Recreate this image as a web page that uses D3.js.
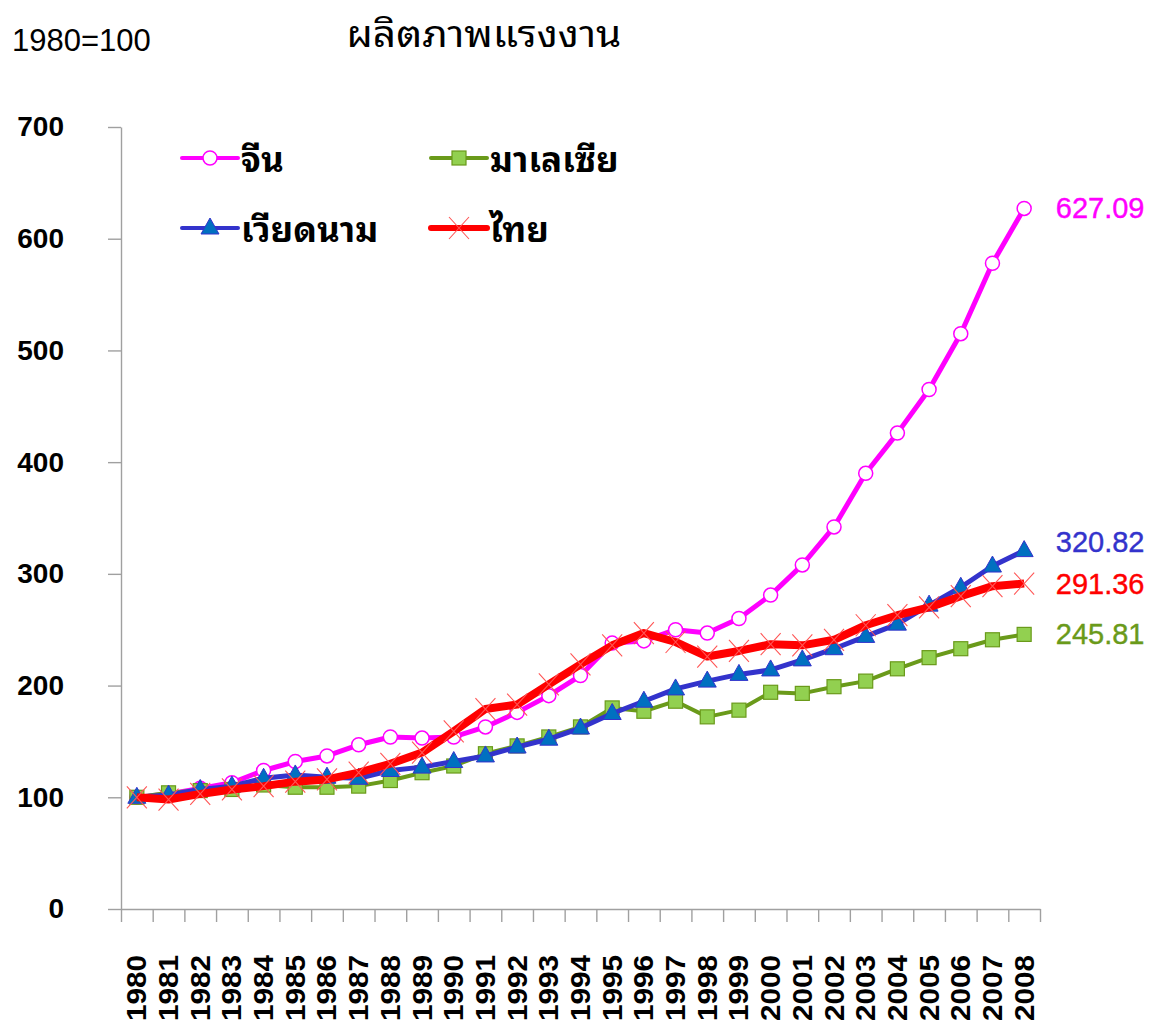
<!DOCTYPE html>
<html><head><meta charset="utf-8">
<script src="https://cdn.jsdelivr.net/npm/d3@7/dist/d3.min.js"></script>
<style>body{margin:0;background:#fff} svg{display:block}</style>
</head><body>
<svg id="c" width="1149" height="1022"></svg>
<script>
const years = [1980,1981,1982,1983,1984,1985,1986,1987,1988,1989,1990,1991,1992,1993,1994,1995,1996,1997,1998,1999,2000,2001,2002,2003,2004,2005,2006,2007,2008];
const china    = [100,103,108,113,124,132,137,147,154,153,154,163,176,191,209,238,240,250,247,260,281,308,342,390,426,465,515,578,627.09];
const malaysia = [100,104,106,107,111,109,109,110,115,122,128,139,146,154,163,180,177,186,172,178,194,193,199,204,215,225,233,241,245.81];
const vietnam  = [100,102,107,110,117,120,118,117,124,127,132,137,145,152,162,175,186,197,204,210,214,223,233,244,255,272,288,307,320.82];
const thailand = [100,98,103,107,110,114,116,122,130,140,159,179,183,201,219,236,247,239,226,231,237,236,241,254,263,270,280,289,291.36];
const seriesNames = ["จีน","มาเลเซีย","เวียดนาม","ไทย"];
const yTicks = [0,100,200,300,400,500,600,700];
const titleText = "ผลิตภาพแรงงาน";
const baseText = "1980=100";

const THAI = "Tahoma, 'Noto Sans Thai Looped', 'Noto Sans Thai', Loma, Garuda, Norasi, 'Noto Sans', sans-serif";
const LAT = "'Liberation Sans', Arial, sans-serif";

const svg = d3.select("#c");
const x = d3.scaleBand().domain(years).range([121,1040]);
const bw = x.bandwidth();
const cx = d => x(d) + bw/2;
const y = d3.scaleLinear().domain([0,700]).range([909,127]);

// title
svg.append("text").attr("transform","translate(484,47) scale(1.13,1)").attr("text-anchor","middle")
  .attr("font-family",THAI).attr("font-size",36).attr("fill","#000").text(titleText);
svg.append("text").attr("x",12).attr("y",51)
  .attr("font-family",LAT).attr("font-size",31).attr("fill","#000").text(baseText);

// y axis
const gy = svg.append("g").attr("transform","translate(121,0)")
  .call(d3.axisLeft(y).tickValues(yTicks).tickSize(13).tickSizeOuter(0).tickPadding(44));
gy.selectAll("path,line").attr("stroke","#a0a0a0").attr("stroke-width",1.4);
gy.selectAll("text").attr("font-family",LAT).attr("font-weight","bold").attr("font-size",28).attr("fill","#000");

// x axis (ticks at band boundaries)
const xb = d3.scaleLinear().domain([0,years.length]).range([121,1040]);
const gx = svg.append("g").attr("transform","translate(0,909)")
  .call(d3.axisBottom(xb).tickValues(d3.range(years.length+1)).tickSize(13).tickSizeOuter(0).tickFormat(""));
gx.selectAll("path,line").attr("stroke","#a0a0a0").attr("stroke-width",1.4);
svg.append("g").selectAll("text").data(years).join("text")
  .attr("transform",d=>`translate(${cx(d)},955) rotate(-90) scale(1.1,1)`)
  .attr("text-anchor","end").attr("dominant-baseline","central")
  .attr("font-family",LAT).attr("font-weight","bold").attr("font-size",27).attr("fill","#000")
  .text(d=>d);

// series
const series = [
  {name:seriesNames[0], values:china, color:"#FF00FF", width:5, marker:"circle"},
  {name:seriesNames[1], values:malaysia, color:"#6A9A1A", width:4, marker:"square"},
  {name:seriesNames[2], values:vietnam, color:"#3333CC", width:5, marker:"triangle"},
  {name:seriesNames[3], values:thailand, color:"#FF0000", width:8, marker:"x"}
];

function drawMarker(g, type, px, py, color){
  if(type==="circle"){
    g.append("circle").attr("cx",px).attr("cy",py).attr("r",7).attr("fill","#fff").attr("stroke",color).attr("stroke-width",1.5);
  } else if(type==="square"){
    g.append("rect").attr("x",px-7).attr("y",py-7).attr("width",14).attr("height",14).attr("fill","#92D050").attr("stroke","#6A9A1A").attr("stroke-width",1.2);
  } else if(type==="triangle"){
    g.append("path").attr("d",`M${px},${py-10}L${px+9},${py+6}L${px-9},${py+6}Z`).attr("fill","#0070C0").attr("stroke","#3333CC").attr("stroke-width",1);
  } else {
    const w=10,h=11;
    g.append("path").attr("d",`M${px-w},${py-h}L${px+w},${py+h}M${px+w},${py-h}L${px-w},${py+h}`).attr("stroke","#FF5555").attr("stroke-width",1.1).attr("fill","none");
  }
}

const line = d3.line().x((d,i)=>cx(years[i])).y(d=>y(d));
series.forEach(s=>{
  const g = svg.append("g");
  g.append("path").attr("d",line(s.values)).attr("fill","none").attr("stroke",s.color)
    .attr("stroke-width",s.width).attr("stroke-linejoin","round");
  s.values.forEach((v,i)=>drawMarker(g,s.marker,cx(years[i]),y(v),s.color));
});

// end labels
const last = years[years.length-1];
const labelShift = {"จีน":0,"มาเลเซีย":0,"เวียดนาม":-9,"ไทย":0};
series.forEach(s=>{
  const v = s.values[s.values.length-1];
  svg.append("text").attr("x",cx(last)+76).attr("y",y(v)+labelShift[s.name])
    .attr("text-anchor","middle").attr("dominant-baseline","central")
    .attr("font-family",LAT).attr("font-size",29).attr("stroke",s.color).attr("stroke-width",0.4)
    .attr("fill",s.color).text(v.toFixed(2));
});

// legend
const legPos = [[182,158],[431,158],[182,228],[431,228]];
series.forEach((s,i)=>{
  const [lx,ly] = legPos[i];
  const g = svg.append("g");
  g.append("line").attr("x1",lx).attr("x2",lx+56).attr("y1",ly).attr("y2",ly)
    .attr("stroke",s.color).attr("stroke-width",s.marker==="x"?6:4).attr("stroke-linecap","round");
  drawMarker(g,s.marker,lx+28,ly,s.color);
  g.append("text").attr("x",lx+59).attr("y",ly+14)
    .attr("font-family",THAI).attr("font-weight","bold").attr("font-size",35).attr("fill","#000").text(s.name);
});
</script>
</body></html>
